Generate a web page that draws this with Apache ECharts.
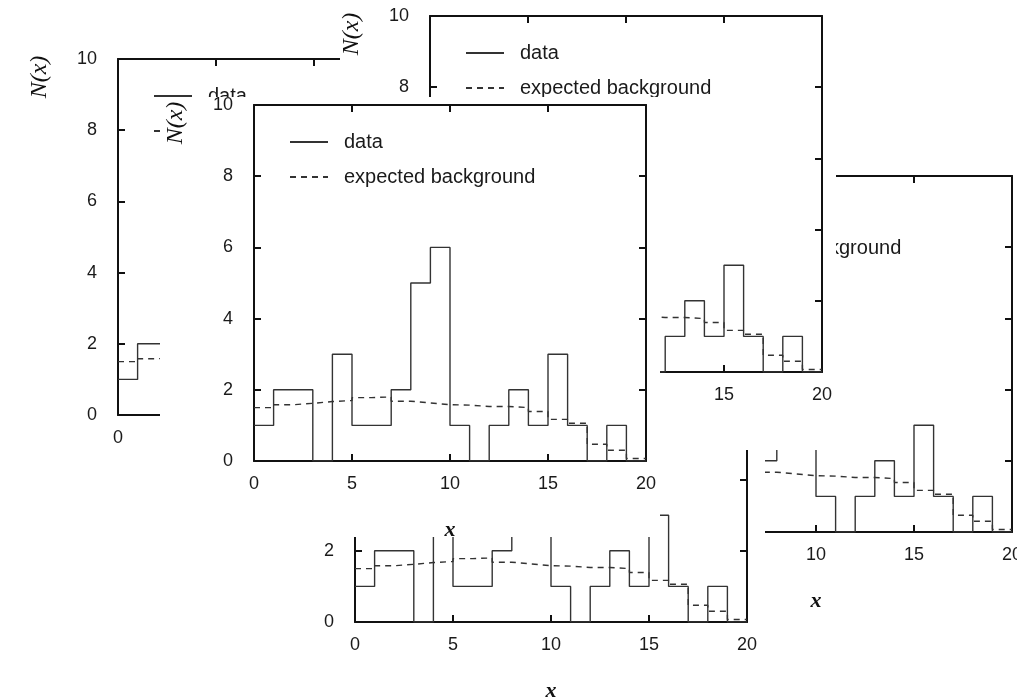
<!DOCTYPE html>
<html>
<head>
<meta charset="utf-8">
<script src="https://cdn.jsdelivr.net/npm/echarts@6/dist/echarts.min.js"></script>
<style>
html,body{margin:0;padding:0;background:#fff;}
#chart{width:1017px;height:698px;}
</style>
</head>
<body>
<div id="chart"></div>
<script>
// ---- data ----
const binEdges = [0,1,2,3,4,5,6,7,8,9,10,11,12,13,14,15,16,17,18,19,20];
const dataCounts = [1,2,2,0,3,1,1,2,5,6,1,0,1,2,1,3,1,0,1,0];
const expectedBackground = [1.50,1.58,1.62,1.67,1.70,1.78,1.80,1.68,1.63,1.58,1.57,1.53,1.53,1.50,1.39,1.17,1.06,0.47,0.30,0.07];
const seriesNames = ['data', 'expected background'];
const xAxisTitle = 'x';
const yAxisTitle = 'N(x)';
const xTickValues = [0,5,10,15,20];
const yTickValues = [0,2,4,6,8,10];

// ---- layout of the overlapping panels (back to front) ----
const panels = [
  {left:118, top:59,  clip:null},                              // far left
  {left:620, top:176, clip:[525,130,492,568]},                 // right
  {left:355, top:266, clip:[260,221,505,477]},                 // bottom
  {left:430, top:16,  clip:[340,0,496,450]},                   // top
  {left:254, top:105, clip:[160,97,500,440]}                   // front
];
const W = 392, H = 356;

function stepPoints(vals){
  const pts = vals.map((v,i)=>[binEdges[i], v]);
  pts.push([binEdges[binEdges.length-1], vals[vals.length-1]]);
  return pts;
}

const grids=[], xAxes=[], yAxes=[], series=[], legends=[], graphics=[];
const lab = {fontFamily:'Liberation Sans, Arial, sans-serif', fontSize:18, color:'#1a1a1a'};
const axLine = {onZero:false, lineStyle:{color:'#111', width:2}};
const tick = {show:true, inside:true, length:7, lineStyle:{color:'#111', width:2}};

panels.forEach((p,k)=>{
  const zb = 10*(k+1);
  const gi = grids.length;
  grids.push({left:p.left, top:p.top, width:W, height:H, containLabel:false, outerBoundsMode:'none'});
  if (p.clip) {
    graphics.push({type:'rect', z:zb, shape:{x:p.clip[0], y:p.clip[1], width:p.clip[2], height:p.clip[3]},
      style:{fill:'#fff'}, silent:true});
  }
  const xb = xAxes.length;
  xAxes.push({type:'value', gridIndex:gi, position:'bottom', min:xTickValues[0], max:xTickValues[xTickValues.length-1],
    interval:xTickValues[1]-xTickValues[0], z:zb+1,
    axisLine:axLine, axisTick:tick, splitLine:{show:false},
    axisLabel:Object.assign({margin:14}, lab),
    name:xAxisTitle, nameLocation:'middle', nameGap:58,
    nameTextStyle:{fontFamily:'Liberation Serif, serif', fontStyle:'italic', fontWeight:'bold', fontSize:22, color:'#111'}});
  xAxes.push({type:'value', gridIndex:gi, position:'top', min:xTickValues[0], max:xTickValues[xTickValues.length-1],
    interval:xTickValues[1]-xTickValues[0], z:zb+1,
    axisLine:axLine, axisTick:tick, splitLine:{show:false}, axisLabel:{show:false}});
  const yb = yAxes.length;
  yAxes.push({type:'value', gridIndex:gi, position:'left', min:yTickValues[0], max:yTickValues[yTickValues.length-1],
    interval:yTickValues[1]-yTickValues[0], z:zb+1,
    axisLine:axLine, axisTick:tick, splitLine:{show:false},
    axisLabel:Object.assign({margin:21}, lab)});
  yAxes.push({type:'value', gridIndex:gi, position:'right', min:yTickValues[0], max:yTickValues[yTickValues.length-1],
    interval:yTickValues[1]-yTickValues[0], z:zb+1,
    axisLine:axLine, axisTick:tick, splitLine:{show:false}, axisLabel:{show:false}});

  series.push({type:'line', name:seriesNames[0], xAxisIndex:xb, yAxisIndex:yb, z:zb+2,
    data:stepPoints(dataCounts), step:'end', symbol:'none', animation:false,
    lineStyle:{color:'#333', width:1.4, type:'solid'}, itemStyle:{color:'#333'}});
  series.push({type:'line', name:seriesNames[1], xAxisIndex:xb, yAxisIndex:yb, z:zb+2,
    data:stepPoints(expectedBackground), step:'end', symbol:'none', animation:false,
    lineStyle:{color:'#333', width:1.4, type:[6,5]}, itemStyle:{color:'#333'}});

  legends.push({data:seriesNames, orient:'vertical', left:p.left+30, top:p.top+22, z:zb+3,
    itemWidth:38, itemHeight:14, itemGap:15, selectedMode:false,
    itemStyle:{opacity:0, borderWidth:0},
    textStyle:{fontFamily:'Liberation Sans, Arial, sans-serif', fontSize:20, color:'#1a1a1a', padding:[0,0,0,11]}});

  graphics.push({type:'text', z:zb+1, x:p.left-78, y:p.top+18, rotation:Math.PI/2,
    style:{text:yAxisTitle, fontFamily:'Liberation Serif, serif', fontStyle:'italic', fontSize:24, fill:'#111',
      textAlign:'center', textVerticalAlign:'middle'}});
});

const chart = echarts.init(document.getElementById('chart'), null, {renderer:'canvas'});
chart.setOption({
  backgroundColor:'#fff',
  animation:false,
  grid:grids, xAxis:xAxes, yAxis:yAxes, series:series, legend:legends,
  graphic:{elements:graphics}
});
</script>
</body>
</html>
